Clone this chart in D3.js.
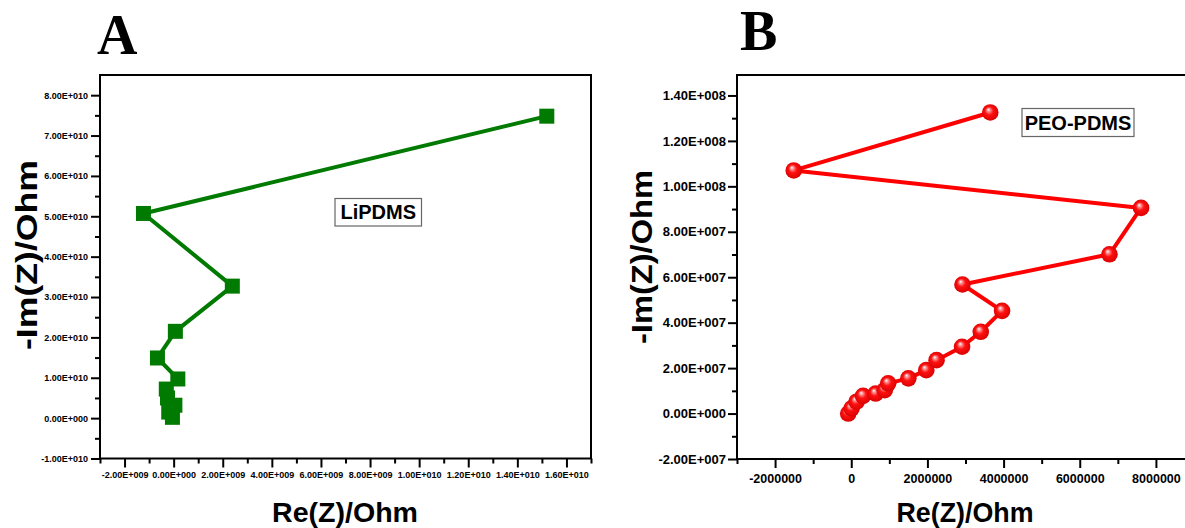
<!DOCTYPE html>
<html>
<head>
<meta charset="utf-8">
<script src="https://cdn.jsdelivr.net/npm/d3@7"></script>
<style>
  html, body { margin: 0; padding: 0; background: #fff; }
  svg { display: block; }
</style>
</head>
<body>
<svg id="chart" width="1185" height="528"></svg>
<script>
// ---------------- DATA ----------------
// Panel A: LiPDMS (Re(Z), -Im(Z)) in Ohm
const lipdmsRe = [1.52e10, -1.23e9, 2.39e9, 0.07e9, -0.66e9, 0.17e9, -0.30e9, -0.25e9, 0.05e9, -0.20e9, -0.05e9];
const lipdmsIm = [7.48e10, 5.07e10, 3.27e10, 2.15e10, 1.49e10, 0.97e10, 0.72e10, 0.50e10, 0.32e10, 0.15e10, 0.02e10];
// Panel B: PEO-PDMS
const peoRe = [3.65e6, -1.51e6, 7.61e6, 6.78e6, 2.92e6, 3.96e6, 3.40e6, 2.91e6, 2.24e6, 1.97e6, 1.50e6, 0.97e6, 0.88e6, 0.64e6, 0.31e6, 0.14e6, 0.01e6, -0.08e6];
const peoIm = [13.25e7, 10.70e7, 9.05e7, 7.01e7, 5.68e7, 4.52e7, 3.60e7, 2.94e7, 2.35e7, 1.91e7, 1.55e7, 1.33e7, 1.03e7, 0.88e7, 0.78e7, 0.52e7, 0.23e7, 0.0];

// Axis tick values
const aXTicks = [-2e9, 0, 2e9, 4e9, 6e9, 8e9, 1e10, 1.2e10, 1.4e10, 1.6e10];
const aXMinor = [-3e9, -1e9, 1e9, 3e9, 5e9, 7e9, 9e9, 1.1e10, 1.3e10, 1.5e10, 1.7e10];
const aYTicks = [-1e10, 0, 1e10, 2e10, 3e10, 4e10, 5e10, 6e10, 7e10, 8e10];
const aYMinor = [-5e9, 5e9, 1.5e10, 2.5e10, 3.5e10, 4.5e10, 5.5e10, 6.5e10, 7.5e10];
const bXTicks = [-2e6, 0, 2e6, 4e6, 6e6, 8e6];
const bXMinor = [-3e6, -1e6, 1e6, 3e6, 5e6, 7e6];
const bYTicks = [-2e7, 0, 2e7, 4e7, 6e7, 8e7, 1e8, 1.2e8, 1.4e8];
const bYMinor = [-1e7, 1e7, 3e7, 5e7, 7e7, 9e7, 1.1e8, 1.3e8];

const panelLabels = ["A", "B"];
const seriesNames = ["LiPDMS", "PEO-PDMS"];
const xTitle = "Re(Z)/Ohm";
const yTitle = "-Im(Z)/Ohm";

// ---------------- HELPERS ----------------
function sciFmt(v) {
  if (v === 0) return "0.00E+000";
  const sign = v < 0 ? "-" : "";
  const a = Math.abs(v);
  let e = Math.floor(Math.log10(a) + 1e-9);
  let m = a / Math.pow(10, e);
  let ms = m.toFixed(2);
  if (ms === "10.00") { e += 1; ms = "1.00"; }
  const es = (e < 0 ? "-" : "+") + String(Math.abs(e)).padStart(3, "0");
  return sign + ms + "E" + es;
}
const intFmt = v => String(Math.round(v));

const svg = d3.select("#chart");
const SANS = "'Liberation Sans', Arial, sans-serif";
const SERIF = "'Liberation Serif', 'Times New Roman', serif";

// sphere gradient
const defs = svg.append("defs");
const grad = defs.append("radialGradient").attr("id", "sphere")
  .attr("cx", "50%").attr("cy", "50%").attr("r", "55%")
  .attr("fx", "38%").attr("fy", "32%");
grad.append("stop").attr("offset", "0%").attr("stop-color", "#ffffff");
grad.append("stop").attr("offset", "18%").attr("stop-color", "#ff9090");
grad.append("stop").attr("offset", "45%").attr("stop-color", "#ff1010");
grad.append("stop").attr("offset", "100%").attr("stop-color", "#d40000");

function drawPanel(cfg) {
  const g = svg.append("g");
  const x = d3.scaleLinear().domain(cfg.xDomain).range(cfg.xRange);
  const y = d3.scaleLinear().domain(cfg.yDomain).range(cfg.yRange);

  // frame
  g.append("rect")
    .attr("x", cfg.xRange[0]).attr("y", cfg.yRange[1])
    .attr("width", cfg.xRange[1] - cfg.xRange[0])
    .attr("height", cfg.yRange[0] - cfg.yRange[1])
    .attr("fill", "none").attr("stroke", "#000").attr("stroke-width", 2);

  // minor ticks
  g.append("g").attr("transform", `translate(0,${cfg.yRange[0]})`)
    .call(d3.axisBottom(x).tickValues(cfg.xMinor).tickSize(5).tickFormat(""))
    .call(s => s.select(".domain").remove())
    .selectAll("line").attr("stroke-width", 2);
  g.append("g").attr("transform", `translate(${cfg.xRange[0]},0)`)
    .call(d3.axisLeft(y).tickValues(cfg.yMinor).tickSize(5).tickFormat(""))
    .call(s => s.select(".domain").remove())
    .selectAll("line").attr("stroke-width", 2);

  // major ticks
  const xa = g.append("g").attr("transform", `translate(0,${cfg.yRange[0]})`)
    .call(d3.axisBottom(x).tickValues(cfg.xTicks).tickSize(9).tickPadding(cfg.xPad).tickFormat(cfg.xFmt))
    .call(s => s.select(".domain").remove());
  xa.selectAll("line").attr("stroke-width", 2);
  xa.selectAll("text").attr("font-family", SANS).attr("font-weight", "bold")
    .attr("font-size", cfg.xFont).attr("fill", "#000");

  const ya = g.append("g").attr("transform", `translate(${cfg.xRange[0]},0)`)
    .call(d3.axisLeft(y).tickValues(cfg.yTicks).tickSize(9).tickPadding(cfg.yPad).tickFormat(cfg.yFmt))
    .call(s => s.select(".domain").remove());
  ya.selectAll("line").attr("stroke-width", 2);
  ya.selectAll("text").attr("font-family", SANS).attr("font-weight", "bold")
    .attr("font-size", cfg.yFont).attr("fill", "#000");

  // axis titles
  g.append("text")
    .attr("x", cfg.xTitlePos[0]).attr("y", cfg.xTitlePos[1])
    .attr("text-anchor", "middle")
    .attr("font-family", SANS).attr("font-weight", "bold").attr("font-size", 28)
    .attr("textLength", cfg.xTitleLen).attr("lengthAdjust", "spacingAndGlyphs")
    .text(xTitle);
  g.append("text")
    .attr("transform", `translate(${cfg.yTitlePos[0]},${cfg.yTitlePos[1]}) rotate(-90)`)
    .attr("text-anchor", "middle").attr("dy", "0.35em")
    .attr("font-family", SANS).attr("font-weight", "bold").attr("font-size", 30)
    .attr("textLength", cfg.yTitleLen).attr("lengthAdjust", "spacingAndGlyphs")
    .text(yTitle);

  // panel letter
  g.append("text")
    .attr("x", cfg.letterPos[0]).attr("y", cfg.letterPos[1])
    .attr("font-family", SERIF).attr("font-weight", "bold").attr("font-size", 56)
    .text(cfg.letter);

  // data
  const pts = cfg.re.map((r, i) => [r, cfg.im[i]]);
  const plot = g.append("g");
  plot.append("path").datum(pts)
    .attr("d", d3.line().x(d => x(d[0])).y(d => y(d[1])))
    .attr("fill", "none").attr("stroke", cfg.color).attr("stroke-width", 4)
    .attr("stroke-linejoin", "round");

  if (cfg.marker === "square") {
    plot.selectAll("rect.m").data(pts).join("rect").attr("class", "m")
      .attr("x", d => x(d[0]) - 7.5).attr("y", d => y(d[1]) - 7.5)
      .attr("width", 15).attr("height", 15).attr("fill", cfg.color);
  } else {
    plot.selectAll("circle.m").data(pts.slice().reverse()).join("circle").attr("class", "m")
      .attr("cx", d => x(d[0])).attr("cy", d => y(d[1])).attr("r", 8.3)
      .attr("fill", "url(#sphere)");
  }

  // annotation box
  const ann = g.append("g");
  ann.append("rect")
    .attr("x", cfg.box[0]).attr("y", cfg.box[1]).attr("width", cfg.box[2]).attr("height", cfg.box[3])
    .attr("fill", "#fff").attr("stroke", "#666").attr("stroke-width", 1.2);
  ann.append("text")
    .attr("x", cfg.box[0] + cfg.box[2] / 2).attr("y", cfg.box[1] + cfg.box[3] / 2)
    .attr("dy", "0.36em").attr("text-anchor", "middle")
    .attr("font-family", SANS).attr("font-weight", "bold").attr("font-size", 20)
    .text(cfg.name);
}

drawPanel({
  letter: panelLabels[0], name: seriesNames[0],
  re: lipdmsRe, im: lipdmsIm, color: "#007a00", marker: "square",
  xDomain: [-3e9, 1.7e10], xRange: [100, 591],
  yDomain: [-1e10, 8.5e10], yRange: [458.5, 75],
  xTicks: aXTicks, xMinor: aXMinor, yTicks: aYTicks, yMinor: aYMinor,
  xFmt: sciFmt, yFmt: sciFmt, xFont: 9, yFont: 9, xPad: 4, yPad: 3,
  xTitlePos: [345, 522], xTitleLen: 146,
  yTitlePos: [26, 255], yTitleLen: 190,
  letterPos: [97, 54],
  box: [335, 198.5, 86.5, 27.5]
});

drawPanel({
  letter: panelLabels[1], name: seriesNames[1],
  re: peoRe, im: peoIm, color: "#ff0000", marker: "sphere",
  xDomain: [-3e6, 9e6], xRange: [737, 1194],
  yDomain: [-2e7, 1.49e8], yRange: [459, 75],
  xTicks: bXTicks, xMinor: bXMinor, yTicks: bYTicks, yMinor: bYMinor,
  xFmt: intFmt, yFmt: sciFmt, xFont: 12.5, yFont: 13, xPad: 6, yPad: 2,
  xTitlePos: [965, 522], xTitleLen: 137,
  yTitlePos: [641, 257], yTitleLen: 174,
  letterPos: [740, 50],
  box: [1022, 108.5, 112, 28]
});
</script>
</body>
</html>
